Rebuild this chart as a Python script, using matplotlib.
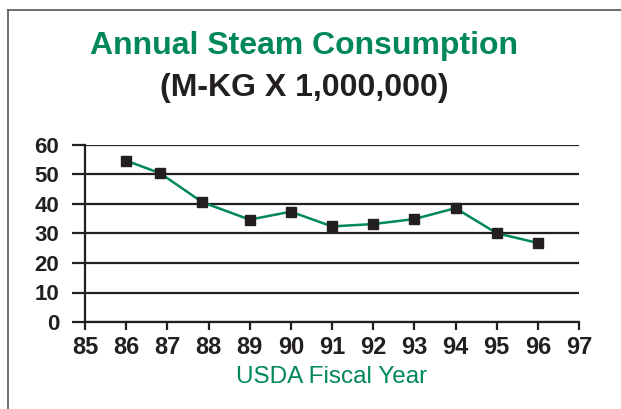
import matplotlib
matplotlib.use("Agg")
import matplotlib.pyplot as plt
from matplotlib.lines import Line2D

# Data
years = [86, 86.83, 87.85, 89, 90, 91, 92, 93, 94, 95, 96]
steam = [54.7, 50.4, 40.6, 34.7, 37.4, 32.4, 33.2, 34.9, 38.6, 30.1, 26.8]
year_ticks = list(range(85, 98))
value_ticks = list(range(0, 61, 10))

GREEN = "#00875a"
DARK = "#231f20"

plt.rcParams["font.family"] = ["Liberation Sans", "DejaVu Sans"]

fig = plt.figure(figsize=(6.21, 4.09), dpi=100)
ax = fig.add_axes([85 / 621, 1 - 322 / 409, (579 - 85) / 621, (322 - 145) / 409])

ax.plot(years, steam, color=GREEN, lw=1.8, marker="s", ms=6.5,
        mfc=DARK, mec=DARK, zorder=3, clip_on=False)

ax.set_xlim(85, 97)
ax.set_ylim(0, 60)
ax.set_xticks(year_ticks)
ax.set_yticks(value_ticks)
ax.grid(axis="y", color=DARK, lw=1.6)
ax.set_axisbelow(True)

for s in ["top", "right"]:
    ax.spines[s].set_visible(False)
for s in ["left", "bottom"]:
    ax.spines[s].set_linewidth(1.6)
    ax.spines[s].set_color(DARK)

ax.tick_params(axis="y", length=9.5, width=1.6, color=DARK, pad=9,
               labelsize=16, labelcolor=DARK)
ax.tick_params(axis="x", length=6, width=1.6, color=DARK, pad=4,
               labelsize=17, labelcolor=DARK)
for lab in ax.get_xticklabels() + ax.get_yticklabels():
    lab.set_fontweight("bold")

ax.set_xlabel("USDA Fiscal Year", color=GREEN, fontsize=17.5, labelpad=5)

fig.text(0.49, 1 - 46 / 409, "Annual Steam Consumption", color=GREEN,
         fontsize=23, fontweight="bold", ha="center", va="center")
fig.text(0.49, 1 - 88 / 409, "(M-KG X 1,000,000)", color=DARK,
         fontsize=23, fontweight="bold", ha="center", va="center")

# frame lines at top and left
fig.add_artist(Line2D([8 / 621, 1], [1 - 10 / 409] * 2, color="#555555", lw=1.2,
                      transform=fig.transFigure))
fig.add_artist(Line2D([8 / 621] * 2, [0, 1 - 10 / 409], color="#555555", lw=1.2,
                      transform=fig.transFigure))

fig.savefig("out.png", dpi=100)
